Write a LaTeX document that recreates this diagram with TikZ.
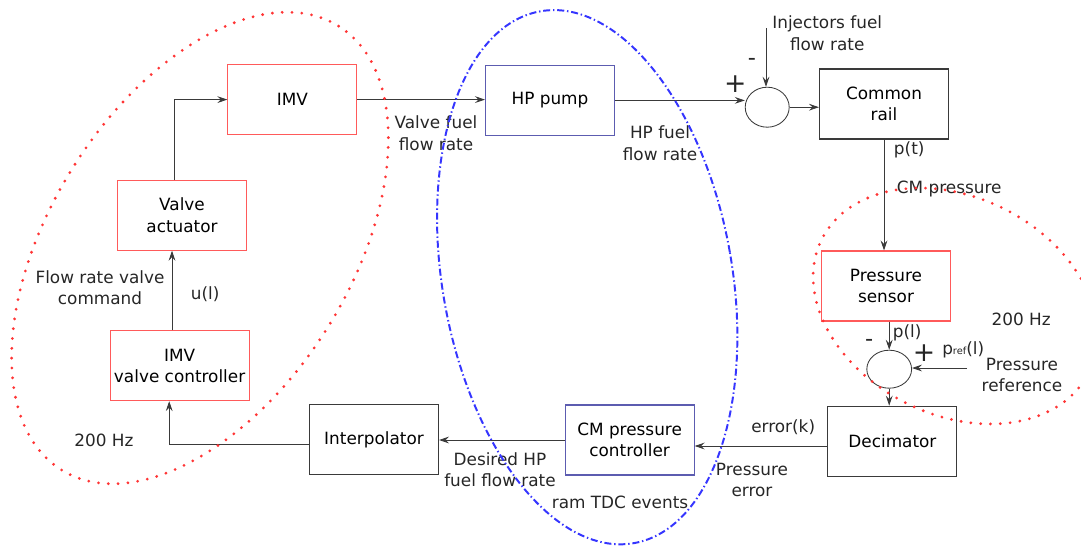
\documentclass[tikz,border=0pt]{standalone}
\usepackage{fontspec}
\setmainfont{DejaVu Sans}
\usepackage{xcolor}
\usetikzlibrary{arrows.meta,positioning,shapes.geometric,calc}

\definecolor{boxred}{HTML}{FF5A5A}
\definecolor{boxblue}{HTML}{5C5CB0}
\definecolor{boxgray}{HTML}{3A3A3A}
\definecolor{dotred}{HTML}{FF3535}
\definecolor{dashblue}{HTML}{3535FF}

\begin{document}
\begin{tikzpicture}[
  >={Stealth[length=2.5mm,width=1.7mm,inset=0.9mm]},
  font=\fontsize{12}{15}\selectfont,
  rbox/.style={
    rectangle, draw=boxred, line width=0.8pt,
    minimum width=3.225cm, minimum height=1.75cm, align=center, inner sep=2pt
  },
  bluebox/.style={rbox, draw=boxblue},
  kbox/.style={rbox, draw=boxgray},
  sumj/.style={
    ellipse, draw=boxgray, line width=0.6pt,
    minimum width=1.1cm, minimum height=1.0cm, inner sep=0pt
  },
  sig/.style={->, line width=0.6pt, color=boxgray},
  lab/.style={align=center, inner sep=1pt, text=black!85},
  sgn/.style={inner sep=0pt, text=black!85},
  reddot/.style={dotred, line width=2.2pt, line cap=round,
    dash pattern=on 0pt off 7pt},
  bluedash/.style={dashblue, line width=1.4pt,
    dash pattern=on 5pt off 2pt on 1pt off 2pt}
]
\useasboundingbox (0,0) rectangle (27.025,-13.65);

% Upper row (fuel path)
\node[rbox] (imv) at (7.31,-2.49) {IMV};
\node[bluebox] (pump) at (13.75,-2.51) {HP pump};
\node[sumj] (sum1) at (19.18,-2.68) {};
\node[kbox] (rail) at (22.10,-2.60) {Common\\rail};

% Left column (valve loop)
\node[rbox] (act) at (4.55,-5.38) {Valve\\actuator};
\node[rbox, minimum width=3.475cm] (ctrl) at (4.49,-9.14) {IMV\\valve controller};

% Right column (pressure measurement)
\node[rbox] (sensor) at (22.15,-7.15) {Pressure\\sensor};
\node[sumj, minimum width=1.12cm, minimum height=0.95cm] (sum2) at (22.23,-9.23) {};

% Lower row (control path)
\node[kbox] (dec) at (22.31,-11.03) {Decimator};
\node[bluebox] (cmc) at (15.74,-11.00) {CM pressure\\controller};
\node[kbox] (interp) at (9.35,-10.99) {Interpolator};

% Free ends of the external inputs
\coordinate (injtop) at (19.15,-0.70);
\coordinate (refin) at (24.18,-9.20);

% Signal connections
\draw[sig] (imv.east) -- (pump.west |- imv.east);
\draw[sig] (pump.east) -- (pump.east -| sum1.west);
\draw[sig] (sum1.east) -- (sum1.east -| rail.west);
\draw[sig] (injtop) -- (injtop |- sum1.north);
\draw[sig] (rail.south) -- (rail.south |- sensor.north);
\draw[sig] (sum2.north |- sensor.south) -- (sum2.north);
\draw[sig] (refin) -- (refin -| sum2.east);
\draw[sig] (sum2.south) -- (sum2.south |- dec.north);
\draw[sig] ([yshift=-0.12cm]dec.west) -- ([yshift=-0.12cm]dec.west -| cmc.east);
\draw[sig] (cmc.west) -- (cmc.west -| interp.east);
\draw[sig] ([yshift=-0.12cm]interp.west) -| ([xshift=-0.26cm]ctrl.south);
\draw[sig] ([xshift=-0.25cm]act.south |- ctrl.north) -- ([xshift=-0.25cm]act.south);
\draw[sig] ([xshift=-0.2cm]act.north) |- (imv.west);

% Signal labels
\node[lab] (inj) at (20.68,-0.83) {Injectors fuel\\flow rate};
\node[sgn, font=\fontsize{16}{16}\selectfont] (minus1) at (18.80,-1.55) {-};
\node[sgn, font=\fontsize{19}{19}\selectfont] (plus1) at (18.38,-2.10) {+};
\node[lab] (pt) at (22.73,-3.75) {p(t)};
\node[lab] (cmp) at (23.73,-4.73) {CM pressure};
\node[lab] (vff) at (10.90,-3.33) {Valve fuel\\flow rate};
\node[lab] (hpf) at (16.50,-3.58) {HP fuel\\flow rate};
\node[lab] (frvc) at (2.50,-7.20) {Flow rate valve\\command};
\node[lab] (ul) at (5.13,-7.35) {u(l)};
\node[lab] (hz1) at (2.60,-11.00) {200 Hz};
\node[lab] (hz2) at (25.53,-7.98) {200 Hz};
\node[lab] (pl) at (22.68,-8.33) {p(l)};
\node[sgn, font=\fontsize{16}{16}\selectfont] (minus2) at (21.73,-8.58) {-};
\node[sgn, font=\fontsize{19}{19}\selectfont] (plus2) at (23.10,-8.83) {+};
\node[lab] (pref) at (24.08,-8.75) {p{\fontsize{7}{8}\selectfont ref}(l)};
\node[lab] (presref) at (25.55,-9.38) {Pressure\\reference};
\node[lab] (errk) at (19.58,-10.68) {error(k)};
\node[lab] (perr) at (18.80,-12.00) {Pressure\\error};
\node[lab] (dhp) at (12.50,-11.75) {Desired HP\\fuel flow rate};
\node[lab] (tdc) at (15.50,-12.55) {ram TDC events};

% Sampling domains
\draw[reddot, rotate around={58:(5.00,-6.20)}] (5.00,-6.20) ellipse (6.54 and 3.76);
\draw[bluedash, rotate around={10:(14.68,-6.93)}] (14.68,-6.93) ellipse (3.62 and 6.75);
\draw[reddot, rotate around={-26.5:(23.88,-7.65)}] (23.88,-7.65) ellipse (3.73 and 2.72);

\end{tikzpicture}
\end{document}
